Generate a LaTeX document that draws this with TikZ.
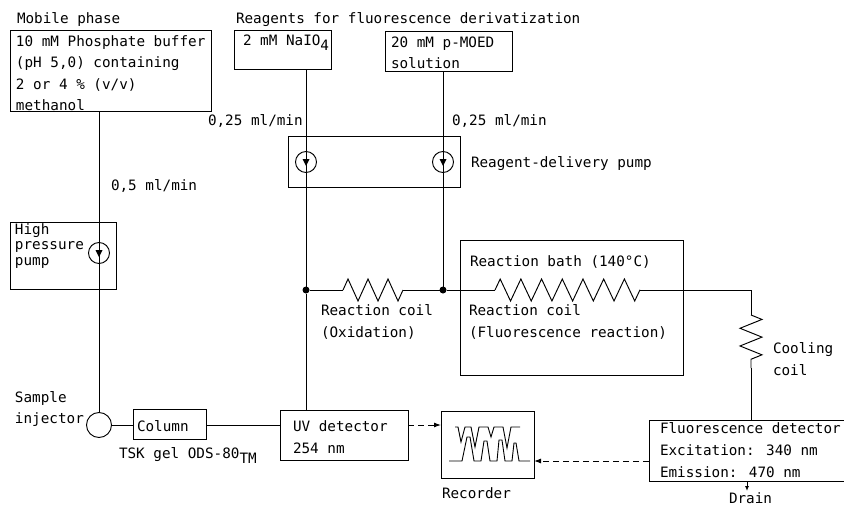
\documentclass[tikz,border=0pt]{standalone}
\usepackage{fontspec}
\setmainfont{DejaVu Sans Mono}
\usepackage{tikz}
\usetikzlibrary{arrows.meta, positioning, decorations.pathmorphing}
\tikzset{flowline/.style = {draw,line width=0.95pt}}
\tikzset{signalline/.style = {draw,line width=0.95pt,dashed,dash pattern=on 6pt off 4pt,-{Latex[length=7pt,width=5pt]}}}
\tikzset{unitbox/.style = {draw,line width=0.95pt,rectangle,inner sep=0pt,outer sep=0pt,anchor=north west}}
\tikzset{caption/.style = {anchor=west,align=left,inner sep=0pt,outer sep=0pt,yshift=-1pt,font=\fontsize{14.3}{#1}\selectfont},caption/.default=21.5}
\tikzset{pumpwheel/.style = {draw,line width=0.95pt,circle,minimum size=21pt,inner sep=0pt,outer sep=0pt,
	path picture={\fill[black] (path picture bounding box.center) ++(-3.5pt,3pt) -- ++(7pt,0) -- ++(-3.5pt,-7pt) -- cycle;}}}
\tikzset{joint/.style = {fill,circle,minimum size=7pt,inner sep=0pt,outer sep=0pt}}
\tikzset{coil/.style = {draw,line width=0.95pt,decorate,decoration={zigzag,segment length=#1,amplitude=11pt}}}
\NewDocumentCommand{\unit}{m m m m}{%
	\node[unitbox,minimum width=#3 pt,minimum height=#4 pt] (#1) at (#2) {};
}
\newcommand{\lowtext}[1]{\raisebox{-5pt}{#1}}
\begin{document}
\begin{tikzpicture}[x=1pt,y=-1pt]
\useasboundingbox (0,0) rectangle (844,506);
% boxes
\unit{mobile}{10,30}{201}{81}
\unit{periodate}{234,30}{97}{39}
\unit{moed}{385,31}{127}{40}
\unit{reagentpump}{288,136}{172}{51}
\unit{hplcpump}{10,222}{106}{67}
\unit{column}{133,409}{73}{30}
\unit{uvdet}{280,410}{128}{50}
\unit{bath}{460,240}{223}{135}
\unit{recorder}{441,411}{93}{67}
\unit{fluodet}{649,420}{196}{61}
% pumps, junctions
\node[pumpwheel] (pumpa) at (306,162) {};
\node[pumpwheel] (pumpb) at (443,162) {};
\node[pumpwheel] (pumpc) at (99,253) {};
\node[draw,line width=0.95pt,circle,minimum size=25pt,inner sep=0pt,outer sep=0pt] (injector) at (99,425) {};
\node[joint] (jointa) at (306,290) {};
\node[joint] (jointb) at (443,290) {};
% coil ends
\coordinate (oxin) at (343,290);
\coordinate (oxout) at (403,290);
\coordinate (fluoin) at (495,290);
\coordinate (fluoout) at (640,290);
\coordinate (bend) at (751,290);
\coordinate (coolin) at (751,315);
\coordinate (coolout) at (751,368);
\coordinate (drainend) at (747,491);
% flow
\draw[flowline] (pumpc |- mobile.south) -- (pumpc.center);
\draw[flowline] (pumpc.center) -- (injector);
\draw[flowline] (pumpa |- periodate.south) -- (pumpa.center);
\draw[flowline] (pumpa.center) -- (jointa);
\draw[flowline] (jointa) -- (pumpa |- uvdet.north);
\draw[flowline] (pumpb |- moed.south) -- (pumpb.center);
\draw[flowline] (pumpb.center) -- (jointb);
\draw[flowline] (injector) -- (column.west |- injector);
\draw[flowline] (column.east |- injector) -- (uvdet.west |- injector);
\draw[flowline] (jointa) -- (oxin);
\draw[coil=20pt] (oxin) -- (oxout);
\draw[flowline] (oxout) -- (jointb);
\draw[flowline] (jointb) -- (fluoin);
\draw[coil=20.7pt] (fluoin) -- (fluoout);
\draw[flowline] (fluoout) -- (bend) -- (coolin);
\draw[coil=17.7pt] (coolin) -- (coolout);
\draw[flowline] (coolout) -- (coolout |- fluodet.north);
\draw[line width=0.95pt,-{Latex[length=5pt,width=4pt]}] (drainend |- fluodet.south) -- (drainend);
% signals
\draw[signalline] (uvdet.east |- 0,425) -- (recorder.west |- 0,425);
\draw[signalline] (fluodet.west |- 0,461) -- (recorder.east |- 0,461);
% chart traces
\draw[line width=0.9pt] (455,427) -- (458,427) -- (461,442) -- (465,427) -- (471,427) -- (475,447) -- (479,427) -- (488,427) -- (491,437) -- (494,427) -- (503,427) -- (507,448) -- (511,427) -- (520,427);
\draw[line width=0.9pt] (449,461) -- (462,461) -- (467,437) -- (470,437) -- (474,461) -- (481,461) -- (484,441) -- (487,441) -- (490,461) -- (497,461) -- (499,440) -- (502,440) -- (505,461) -- (512,461) -- (514,443) -- (516,443) -- (519,461) -- (530,461);
% labels
\node[caption] (mobilehead) at (17,19) {Mobile phase};
\node[caption] (reagenthead) at (236,19) {Reagents for fluorescence derivatization};
\node[caption] (mobiletext) at (16,72) {10 mM Phosphate buffer\\(pH 5,0) containing\\2 or 4 \% (v/v)\\methanol};
\node[caption] (periodatetext) at (243,42) {2 mM NaIO\lowtext{4}};
\node[caption] (moedtext) at (391,52) {20 mM p-MOED\\solution};
\node[caption] (ratea) at (208,120) {0,25 ml/min};
\node[caption] (rateb) at (452,120) {0,25 ml/min};
\node[caption] (ratec) at (111,185) {0,5 ml/min};
\node[caption] (reagentpumptext) at (471,163) {Reagent-delivery pump};
\node[caption=15.5] (hplcpumptext) at (15,245) {High\\pressure\\pump};
\node[caption] (injectortext) at (15,408) {Sample\\injector};
\node[caption] (columntext) at (137,425) {Column};
\node[caption] (columnname) at (119,455) {TSK gel ODS-80\lowtext{TM}};
\node[caption=22.5] (uvtext) at (293,436) {UV detector\\254 nm};
\node[caption] (oxtext) at (321,321) {Reaction coil\\(Oxidation)};
\node[caption] (bathtext) at (470,261) {Reaction bath (140°C)};
\node[caption] (fluotext) at (469,321) {Reaction coil\\(Fluorescence reaction)};
\node[caption] (cooltext) at (773,358) {Cooling\\coil};
\node[caption=22] (fluodettext) at (660,449) {Fluorescence detector\\Excitation: 340 nm\\Emission: 470 nm};
\node[caption] (recordertext) at (442,492) {Recorder};
\node[caption] (draintext) at (729,497) {Drain};
\end{tikzpicture}
\end{document}
